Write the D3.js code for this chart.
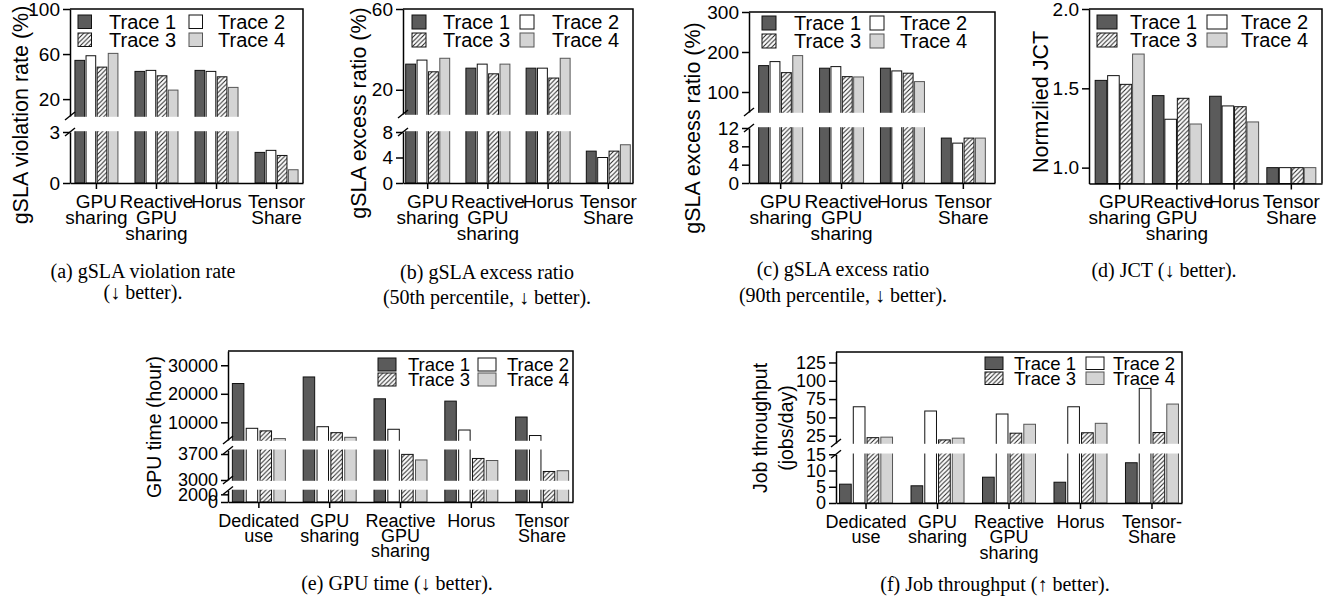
<!DOCTYPE html>
<meta charset="utf-8">
<style>
body { margin: 0; background: #fff; }
svg text { font-family: "Liberation Sans", Arial, sans-serif; fill: #000; }
.caption { font-family: "Liberation Serif", "DejaVu Serif", serif; }
.axis path, .axis line { stroke: #000; stroke-width: 1.5px; }
.frame { stroke: #000; stroke-width: 1.5px; fill: none; }
</style>
<body></body>
<script src="https://cdn.jsdelivr.net/npm/d3@7"></script>
<script>
var traces = ["Trace 1", "Trace 2", "Trace 3", "Trace 4"];
var schemesTop = ["GPU\nsharing", "Reactive\nGPU\nsharing", "Horus", "Tensor\nShare"];
var schemesE = ["Dedicated\nuse", "GPU\nsharing", "Reactive\nGPU\nsharing", "Horus", "Tensor\nShare"];
var schemesF = ["Dedicated\nuse", "GPU\nsharing", "Reactive\nGPU\nsharing", "Horus", "Tensor-\nShare"];

// one array per trace, values per scheme
var violationRate = [
  [54.4, 44.6, 45.5, 1.8],
  [58.5, 45.5, 44.6, 1.92],
  [48.4, 40.7, 39.8, 1.62],
  [60.6, 28.0, 30.4, 0.78]
];
var excessP50 = [
  [32.7, 30.7, 30.7, 5],
  [34.7, 32.7, 30.7, 4],
  [28.9, 27.9, 25.8, 5],
  [35.6, 32.7, 35.6, 6]
];
var excessP90 = [
  [166, 159.5, 159.5, 9.8],
  [176, 163.5, 152.7, 8.7],
  [148.4, 138.4, 147, 9.8],
  [191, 137.6, 126, 9.8]
];
var jct = [
  [1.55, 1.454, 1.45, 1.0],
  [1.58, 1.305, 1.389, 1.0],
  [1.525, 1.437, 1.384, 1.0],
  [1.716, 1.275, 1.288, 1.0]
];
var gpuTime = [
  [23600, 25900, 18240, 17430, 11850],
  [7900, 8460, 7560, 7300, 5370],
  [7000, 6370, 3690, 3580, 3230],
  [4300, 4740, 3540, 3525, 3250]
];
var throughput = [
  [5.8, 5.3, 7.95, 6.4, 12.4],
  [64.5, 58.7, 54.6, 64.5, 89.6],
  [22.3, 19.2, 28.4, 29, 29.3],
  [23, 21.6, 40.6, 41.9, 68.2]
];

// axis segments (broken axes) and tick labels
var ticksA = [[0, 3], [20, 60, 100]];
var ticksB = [[0, 4, 8], [20, 60]];
var ticksC = [[0, 4, 8, 12], [100, 200, 300]];
var ticksD = [[1.0, 1.5, 2.0]];
var ticksE = [[0, 2000], [3000, 3700], [10000, 20000, 30000]];
var ticksF = [[0, 5, 10, 15], [25, 50, 75, 100, 125]];

var fills = ["#5b5b5b", "#ffffff", "url(#hatch)", "#d4d4d4"];
var strokes = ["#111", "#111", "#111", "#555"];

var panels = [
  { x0: 70, x1: 303, top: 9, pad: -0.06, gw: 43, inner: 0.13, cats: schemesTop, values: violationRate,
    segs: [{ domain: [0, 3], range: [183, 132], ticks: ticksA[0] }, { domain: [5, 100], range: [116, 9], ticks: ticksA[1] }],
    ylabel: ["gSLA violation rate (%)"], ylx: [20], yly: 115, fs: 19, lfs: 20, yfs: 21.5,
    leg: { sx: [78, 189], tx: [109, 218], ry: [15, 33], sw: 13.5, sh: 13.5 }, xl: 18, xls: 16 },
  { x0: 403, x1: 633, top: 9, pad: -0.09, gw: 44, inner: 0.13, cats: schemesTop, values: excessP50,
    segs: [{ domain: [0, 8], range: [183, 132], ticks: ticksB[0] }, { domain: [8, 60], range: [114, 9], ticks: ticksB[1] }],
    ylabel: ["gSLA excess ratio (%)"], ylx: [358], yly: 113, fs: 19, lfs: 20, yfs: 21.5,
    leg: { sx: [412, 520], tx: [443, 552], ry: [15, 33], sw: 14, sh: 14 }, xl: 18, xls: 16 },
  { x0: 749, x1: 995, top: 12, pad: 0.02, gw: 44, inner: 0.13, cats: schemesTop, values: excessP90,
    segs: [{ domain: [0, 12], range: [183, 128], ticks: ticksC[0] }, { domain: [50, 300], range: [112, 12], ticks: ticksC[1] }],
    ylabel: ["gSLA excess ratio (%)"], ylx: [692], yly: 128, fs: 19, lfs: 20, yfs: 21.5,
    leg: { sx: [762, 870], tx: [794, 900], ry: [16, 34], sw: 14, sh: 14 }, xl: 18, xls: 16 },
  { x0: 1089, x1: 1322, top: 9, pad: 0.036, gw: 49, inner: 0.07, cats: schemesTop, values: jct,
    segs: [{ domain: [0.9, 2.0], range: [183.5, 9], ticks: ticksD[0] }], fmt: d3.format(".1f"),
    ylabel: ["Normzlied JCT"], ylx: [1040], yly: 102, fs: 19, lfs: 20, yfs: 21.5,
    leg: { sx: [1097, 1207], tx: [1130, 1241], ry: [15, 33], sw: 20, sh: 14 }, xl: 18, xls: 16 },
  { x0: 228, x1: 573, top: 351, pad: -0.064, gw: 53, inner: 0.17, cats: schemesE, values: gpuTime,
    segs: [{ domain: [0, 3000], range: [502, 490.5], ticks: ticksE[0] },
           { domain: [3000, 3800], range: [480, 450.3], ticks: ticksE[1] },
           { domain: [3800, 35000], range: [440, 351], ticks: ticksE[2] }],
    ylabel: ["GPU time (hour)"], ylx: [154], yly: 427, fs: 18, lfs: 18.5, yfs: 19.5,
    leg: { sx: [378, 478], tx: [408, 507], ry: [358, 373], sw: 18, sh: 13 }, xl: 18.5, xls: 15 },
  { x0: 836, x1: 1182, top: 352, pad: -0.08, gw: 53, inner: 0.15, cats: schemesF, values: throughput,
    segs: [{ domain: [0, 15], range: [503, 454.3], ticks: ticksF[0] }, { domain: [15, 140], range: [443, 351.5], ticks: ticksF[1] }],
    ylabel: ["Job throughput", "(jobs/day)"], ylx: [760, 786], yly: 428, fs: 18, lfs: 18.5, yfs: 19.5,
    leg: { sx: [985, 1086], tx: [1014, 1113], ry: [357, 372], sw: 18, sh: 12.5 }, xl: 18.5, xls: 15.5 }
];

var captions = [
  { lines: ["(a) gSLA violation rate", "(\u2193 better)."], x: 143, y: [271, 292], fs: 20 },
  { lines: ["(b) gSLA excess ratio", "(50th percentile, \u2193 better)."], x: 487, y: [272, 297], fs: 20 },
  { lines: ["(c) gSLA excess ratio", "(90th percentile, \u2193 better)."], x: 843, y: [269, 295], fs: 20 },
  { lines: ["(d) JCT (\u2193 better)."], x: 1164, y: [270], fs: 20 },
  { lines: ["(e) GPU time (\u2193 better)."], x: 397, y: [583], fs: 20 },
  { lines: ["(f) Job throughput (\u2191 better)."], x: 995, y: [584], fs: 20 }
];

var svg = d3.select("body").append("svg")
  .attr("width", 1338)
  .attr("height", 604);

var pat = svg.append("defs").append("pattern")
  .attr("id", "hatch")
  .attr("patternUnits", "userSpaceOnUse")
  .attr("width", 4.5)
  .attr("height", 4.5);
pat.append("rect").attr("width", 4.5).attr("height", 4.5).attr("fill", "#fff");
pat.append("path")
  .attr("d", "M-1,1 l2,-2 M0,4.5 l4.5,-4.5 M3.5,5.5 l2,-2")
  .attr("stroke", "#222")
  .attr("stroke-width", 1);

function drawPanel(p) {
  var g = svg.append("g");

  var x = d3.scaleBand().domain(p.cats).range([p.x0, p.x1]).paddingInner(0).paddingOuter(p.pad);
  var xs = d3.scaleBand().domain(traces).range([-p.gw / 2, p.gw / 2]).paddingInner(p.inner);

  var segs = p.segs.map(function(s) {
    return { scale: d3.scaleLinear().domain(s.domain).range(s.range), ticks: s.ticks };
  });
  var bottom = p.segs[0].range[0];

  function yTop(v) {
    var s = segs[0];
    segs.forEach(function(t) { if (v >= t.scale.domain()[0]) s = t; });
    return s.scale(v);
  }

  var rows = [];
  p.values.forEach(function(series, ti) {
    series.forEach(function(v, ci) {
      rows.push({ t: ti, cat: p.cats[ci], v: v });
    });
  });

  g.selectAll("rect.bar")
    .data(rows)
    .enter().append("rect")
    .attr("class", "bar")
    .attr("x", function(d) { return x(d.cat) + x.bandwidth() / 2 + xs(traces[d.t]); })
    .attr("width", xs.bandwidth())
    .attr("y", function(d) { return yTop(d.v); })
    .attr("height", function(d) { return bottom - yTop(d.v); })
    .attr("fill", function(d) { return fills[d.t]; })
    .attr("stroke", function(d) { return strokes[d.t]; })
    .attr("stroke-width", 1);

  // white gaps of broken axis
  for (var i = 0; i + 1 < p.segs.length; i++) {
    var yLow = p.segs[i].range[1], yHigh = p.segs[i + 1].range[0];
    g.append("rect")
      .attr("x", p.x0 - 2)
      .attr("width", p.x1 - p.x0 - 1)
      .attr("y", yHigh + 0.8)
      .attr("height", yLow - yHigh - 1.6)
      .attr("fill", "#fff");
    [yHigh, yLow].forEach(function(yb) {
      g.append("line")
        .attr("x1", p.x0 - 5).attr("y1", yb + 4)
        .attr("x2", p.x0 + 5).attr("y2", yb - 4)
        .attr("stroke", "#000").attr("stroke-width", 1.4);
    });
  }

  segs.forEach(function(s) {
    g.append("g")
      .attr("class", "axis")
      .attr("transform", "translate(" + p.x0 + ",0)")
      .call(d3.axisLeft(s.scale).tickValues(s.ticks).tickSize(7).tickSizeOuter(0).tickPadding(3)
        .tickFormat(p.fmt || d3.format("d")))
      .attr("font-size", p.fs)
      .attr("font-family", null);
  });

  g.append("g")
    .attr("class", "axis")
    .attr("transform", "translate(0," + bottom + ")")
    .call(d3.axisBottom(x).tickSize(6).tickSizeOuter(0).tickFormat(""));

  g.append("path")
    .attr("class", "frame")
    .attr("d", "M" + p.x0 + "," + p.top + "H" + p.x1 + "V" + bottom);

  // category labels
  p.cats.forEach(function(c) {
    var t = g.append("text")
      .attr("text-anchor", "middle")
      .attr("font-size", p.fs)
      .attr("x", x(c) + x.bandwidth() / 2)
      .attr("y", bottom + p.xl);
    c.split("\n").forEach(function(line, k) {
      t.append("tspan")
        .attr("x", x(c) + x.bandwidth() / 2)
        .attr("y", bottom + p.xl + k * p.xls)
        .attr("dy", "0.35em")
        .text(line);
    });
  });

  p.ylabel.forEach(function(l, k) {
    g.append("text")
      .attr("transform", "translate(" + p.ylx[k] + "," + p.yly + ") rotate(-90)")
      .attr("text-anchor", "middle")
      .attr("dy", "0.35em")
      .attr("font-size", p.yfs)
      .text(l);
  });

  // legend
  traces.forEach(function(tr, i) {
    var col = i % 2, row = Math.floor(i / 2);
    g.append("rect")
      .attr("x", p.leg.sx[col])
      .attr("y", p.leg.ry[row])
      .attr("width", p.leg.sw)
      .attr("height", p.leg.sh)
      .attr("fill", fills[i])
      .attr("stroke", strokes[i])
      .attr("stroke-width", 1);
    g.append("text")
      .attr("x", p.leg.tx[col])
      .attr("y", p.leg.ry[row] + p.leg.sh / 2)
      .attr("dy", "0.35em")
      .attr("font-size", p.lfs)
      .text(tr);
  });
}

panels.forEach(drawPanel);

captions.forEach(function(c) {
  c.lines.forEach(function(l, k) {
    svg.append("text")
      .attr("class", "caption")
      .attr("font-size", c.fs)
      .attr("x", c.x)
      .attr("y", c.y[k])
      .attr("dy", "0.35em")
      .attr("text-anchor", "middle")
      .text(l);
  });
});
</script>
